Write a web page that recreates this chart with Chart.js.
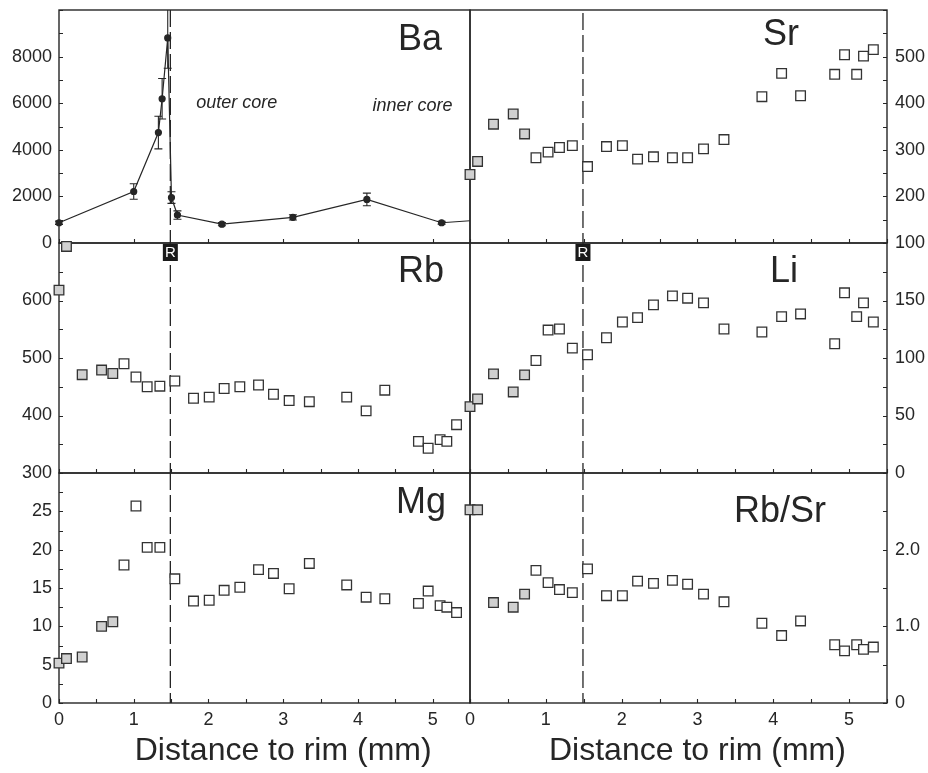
<!DOCTYPE html>
<html>
<head>
<meta charset="utf-8">
<script src="https://cdn.jsdelivr.net/npm/chart.js@4.4.1/dist/chart.umd.min.js"></script>
<style>
  body { margin: 0; background: #fff; }
  #wrap { position: relative; width: 928px; height: 773px; }
  #wrap canvas { position: absolute; left: 0; top: 0; }
</style>
</head>
<body>
<div id="wrap">
  <canvas id="ba" width="928" height="773"></canvas>
  <canvas id="rb" width="928" height="773"></canvas>
  <canvas id="mg" width="928" height="773"></canvas>
  <canvas id="sr" width="928" height="773"></canvas>
  <canvas id="li" width="928" height="773"></canvas>
  <canvas id="rbsr" width="928" height="773"></canvas>
</div>
<script>
// sample positions (mm from rim), shared by all square-marker profiles
const distance = [0, 0.10, 0.31, 0.57, 0.72, 0.87, 1.03, 1.18, 1.35, 1.55, 1.80, 2.01, 2.21,
                  2.42, 2.67, 2.87, 3.08, 3.35, 3.85, 4.11, 4.36, 4.81, 4.94, 5.10, 5.19, 5.32];
const rimSamples = 5; // first samples drawn grey
const rimEdge = 1.49; // dashed "R" boundary

const sr = [247, 275, 355, 377, 334, 283, 295, 305, 309, 264, 307, 309, 280,
            285, 283, 283, 302, 322, 414, 464, 416, 462, 504, 462, 501, 515];
const rb = [618, 694, 471, 479, 473, 490, 467, 450, 451, 460, 430, 432, 447,
            450, 453, 437, 426, 424, 432, 408, 444, 355, 343, 358, 355, 384];
const li = [57.7, 64.4, 86.2, 70.5, 85.3, 97.8, 124.3, 125.2, 108.6, 102.8, 117.6, 131.3, 135.1,
            146.2, 154.0, 152.0, 147.9, 125.2, 122.6, 136.0, 138.3, 112.4, 156.7, 136.0, 147.9, 131.3];
const mg = [5.2, 5.8, 6.0, 10.0, 10.6, 18.0, 25.7, 20.3, 20.3, 16.2, 13.3, 13.4, 14.7,
            15.1, 17.4, 16.9, 14.9, 18.2, 15.4, 13.8, 13.6, 13.0, 14.6, 12.7, 12.5, 11.8];
const rbSr = [2.52, 2.52, 1.31, 1.25, 1.42, 1.73, 1.57, 1.48, 1.44, 1.75, 1.40, 1.40, 1.59,
              1.56, 1.60, 1.55, 1.42, 1.32, 1.04, 0.88, 1.07, 0.76, 0.68, 0.76, 0.70, 0.73];

// Ba profile with error bars
const baDistance = [0, 1.0, 1.33, 1.38, 1.455, 1.505, 1.585, 2.18, 3.13, 4.12, 5.12, 5.7];
const ba = [870, 2210, 4740, 6190, 8800, 1950, 1200, 810, 1100, 1870, 870, 1000];
const baErr = [70, 330, 700, 870, 1300, 250, 180, 70, 110, 270, 60, 60];

const xLabels = ['0', '1', '2', '3', '4', '5'];
const FONT = 'Arial, "Liberation Sans", sans-serif';
const INK = '#262626';
const PAGE_W = 928, PAGE_H = 773;
const COLS = { left: [59, 470], right: [470, 887] };
const ROWS = [[10, 243], [243, 473], [473, 703]];

function isMajor(v, step) {
    return Math.abs(v / step - Math.round(v / step)) < 1e-6;
}

function errorPath(ctx, x, y, errors) {
    ctx.beginPath();
    errors.forEach((e, i) => {
        const px = x.getPixelForValue(baDistance[i]);
        const hi = y.getPixelForValue(ba[i] + e), lo = y.getPixelForValue(ba[i] - e);
        ctx.moveTo(px, hi); ctx.lineTo(px, lo);
        ctx.moveTo(px - 4, hi); ctx.lineTo(px + 4, hi);
        ctx.moveTo(px - 4, lo); ctx.lineTo(px + 4, lo);
    });
}

function decor(cfg) {
    return {
        id: 'decor',
        beforeDatasetsDraw(chart) {
            const { ctx, chartArea: a, scales } = chart;
            const x = scales.x, y = scales.y;
            ctx.save();
            ctx.strokeStyle = INK;
            ctx.lineWidth = 1.4;
            ctx.strokeRect(a.left, a.top, a.right - a.left, a.bottom - a.top);
            ctx.lineWidth = 1.1;
            ctx.beginPath();
            for (let v = cfg.yMin; v <= cfg.yMax + 1e-9; v += cfg.yMinor) {
                const py = Math.round(y.getPixelForValue(v)) + 0.5;
                if (cfg.col === 'left') { ctx.moveTo(a.left, py); ctx.lineTo(a.left + 4, py); }
                else { ctx.moveTo(a.right - 4, py); ctx.lineTo(a.right, py); }
            }
            for (let v = 0; v <= 5.5 + 1e-9; v += cfg.xMinor) {
                const px = Math.round(x.getPixelForValue(v)) + 0.5;
                ctx.moveTo(px, a.bottom); ctx.lineTo(px, a.bottom - 4);
            }
            ctx.stroke();
            // rim boundary
            const rx = x.getPixelForValue(rimEdge);
            ctx.setLineDash([17, 5]);
            ctx.lineWidth = 1.3;
            ctx.beginPath();
            ctx.moveTo(rx, a.top + (cfg.dashTop || 0));
            ctx.lineTo(rx, a.bottom);
            ctx.stroke();
            ctx.setLineDash([]);
            // error bars, clipped at the right edge like the line
            if (cfg.errors) {
                ctx.lineWidth = 1.1;
                ctx.beginPath();
                ctx.rect(a.left - 10, a.top, a.right - a.left + 10, a.bottom - a.top);
                ctx.clip();
                errorPath(ctx, x, y, cfg.errors);
                ctx.stroke();
            }
            ctx.restore();
        },
        afterDatasetsDraw(chart) {
            const { ctx, chartArea: a, scales } = chart;
            const x = scales.x, y = scales.y;
            ctx.save();
            ctx.fillStyle = INK;
            ctx.textAlign = 'left';
            ctx.textBaseline = 'alphabetic';
            ctx.font = '36px ' + FONT;
            ctx.fillText(cfg.label, a.left + cfg.labelDx, a.top + cfg.labelDy);
            (cfg.notes || []).forEach(n => {
                ctx.font = 'italic 18px ' + FONT;
                ctx.textAlign = 'center';
                ctx.fillText(n.text, x.getPixelForValue(n.x), y.getPixelForValue(n.y));
            });
            if (cfg.marker) {
                const rx = x.getPixelForValue(rimEdge);
                ctx.fillStyle = '#1a1a1a';
                ctx.fillRect(rx - 7.5, a.top + 1, 15, 17);
                ctx.fillStyle = '#fff';
                ctx.font = '15px ' + FONT;
                ctx.textAlign = 'center';
                ctx.textBaseline = 'middle';
                ctx.fillText('R', rx, a.top + 10);
            }
            if (cfg.row === 2) {
                ctx.fillStyle = INK;
                ctx.font = '32px ' + FONT;
                ctx.textAlign = 'center';
                ctx.textBaseline = 'alphabetic';
                ctx.fillText('Distance to rim (mm)', x.getPixelForValue(3), 760);
            }
            ctx.restore();
        }
    };
}

function squares(values) {
    return {
        data: distance.map((d, i) => ({ x: d, y: values[i] })),
        pointStyle: 'rect',
        pointRadius: 6.8,
        pointBorderWidth: 1.3,
        pointBorderColor: '#333',
        pointBackgroundColor: c => c.dataIndex < rimSamples ? '#d0d0d0' : '#fff',
        showLine: false,
        clip: false
    };
}

function panel(id, cfg) {
    const [top, bottom] = ROWS[cfg.row];
    const left = cfg.col === 'left';
    const axisW = left ? COLS.left[0] : PAGE_W - COLS.right[1];
    const padding = {
        top: top,
        bottom: cfg.row === 2 ? 0 : PAGE_H - bottom,
        left: left ? 0 : COLS.right[0],
        right: left ? PAGE_W - COLS.left[1] : 0
    };
    return new Chart(document.getElementById(id), {
        type: 'scatter',
        data: { datasets: cfg.datasets },
        options: {
            responsive: false,
            animation: false,
            events: [],
            layout: { padding, autoPadding: false },
            plugins: { legend: { display: false }, tooltip: { enabled: false } },
            scales: {
                x: {
                    type: 'linear', min: 0, max: 5.5,
                    display: cfg.row === 2,
                    grid: { display: false, drawTicks: false }, border: { display: false },
                    afterFit: s => {
                        if (cfg.row === 2) s.height = PAGE_H - ROWS[2][1];
                        s.paddingLeft = s.paddingRight = 0;
                    },
                    ticks: {
                        stepSize: 0.5, autoSkip: false, maxRotation: 0, padding: 6,
                        color: INK, font: { family: FONT, size: 18 },
                        callback: v => isMajor(v, 1) ? xLabels[Math.round(v)] : ''
                    }
                },
                y: {
                    type: 'linear', min: cfg.yMin, max: cfg.yMax,
                    position: cfg.col,
                    grid: { display: false, drawTicks: false }, border: { display: false },
                    afterFit: s => {
                        s.width = axisW;
                        s.paddingTop = s.paddingBottom = 0;
                    },
                    ticks: {
                        stepSize: cfg.yMinor, autoSkip: false, padding: left ? 7 : 8,
                        color: INK, font: { family: FONT, size: 18 },
                        callback: v => {
                            if (Math.abs(v - cfg.yMax) < 1e-9) return null; // top label left off
                            return isMajor(v, cfg.yMajor) ? cfg.fmt(v) : '';
                        }
                    }
                }
            }
        },
        plugins: [decor(cfg)]
    });
}

const plain = v => String(Math.round(v));

panel('ba', {
    col: 'left', row: 0, yMin: 0, yMax: 10000, yMinor: 1000, yMajor: 2000, fmt: plain, xMinor: 1,
    label: 'Ba', labelDx: 339, labelDy: 40, errors: baErr,
    notes: [{ text: 'outer core', x: 2.38, y: 5780 }, { text: 'inner core', x: 4.73, y: 5650 }],
    datasets: [{
        data: baDistance.map((d, i) => ({ x: d, y: ba[i] })),
        showLine: true, borderColor: INK, borderWidth: 1.2,
        pointRadius: 3, pointBackgroundColor: INK, pointBorderColor: INK,
        clip: { left: 10, top: 10, right: 0, bottom: 10 }
    }]
});
panel('rb', {
    col: 'left', row: 1, yMin: 300, yMax: 700, yMinor: 50, yMajor: 100, fmt: plain, xMinor: 0.5,
    label: 'Rb', labelDx: 339, labelDy: 39, marker: true, datasets: [squares(rb)]
});
panel('mg', {
    col: 'left', row: 2, yMin: 0, yMax: 30, yMinor: 2.5, yMajor: 5, fmt: plain, xMinor: 0.5,
    label: 'Mg', labelDx: 337, labelDy: 40, datasets: [squares(mg)]
});
panel('sr', {
    col: 'right', row: 0, yMin: 100, yMax: 600, yMinor: 50, yMajor: 100, fmt: plain, xMinor: 0.5,
    label: 'Sr', labelDx: 293, labelDy: 35, dashTop: 3, datasets: [squares(sr)]
});
panel('li', {
    col: 'right', row: 1, yMin: 0, yMax: 200, yMinor: 25, yMajor: 50, fmt: plain, xMinor: 0.5,
    label: 'Li', labelDx: 300, labelDy: 39, marker: true, datasets: [squares(li)]
});
panel('rbsr', {
    col: 'right', row: 2, yMin: 0, yMax: 3, yMinor: 0.5, yMajor: 1, fmt: v => v === 0 ? '0' : v.toFixed(1), xMinor: 0.5,
    label: 'Rb/Sr', labelDx: 264, labelDy: 49, datasets: [squares(rbSr)]
});
</script>
</body>
</html>
